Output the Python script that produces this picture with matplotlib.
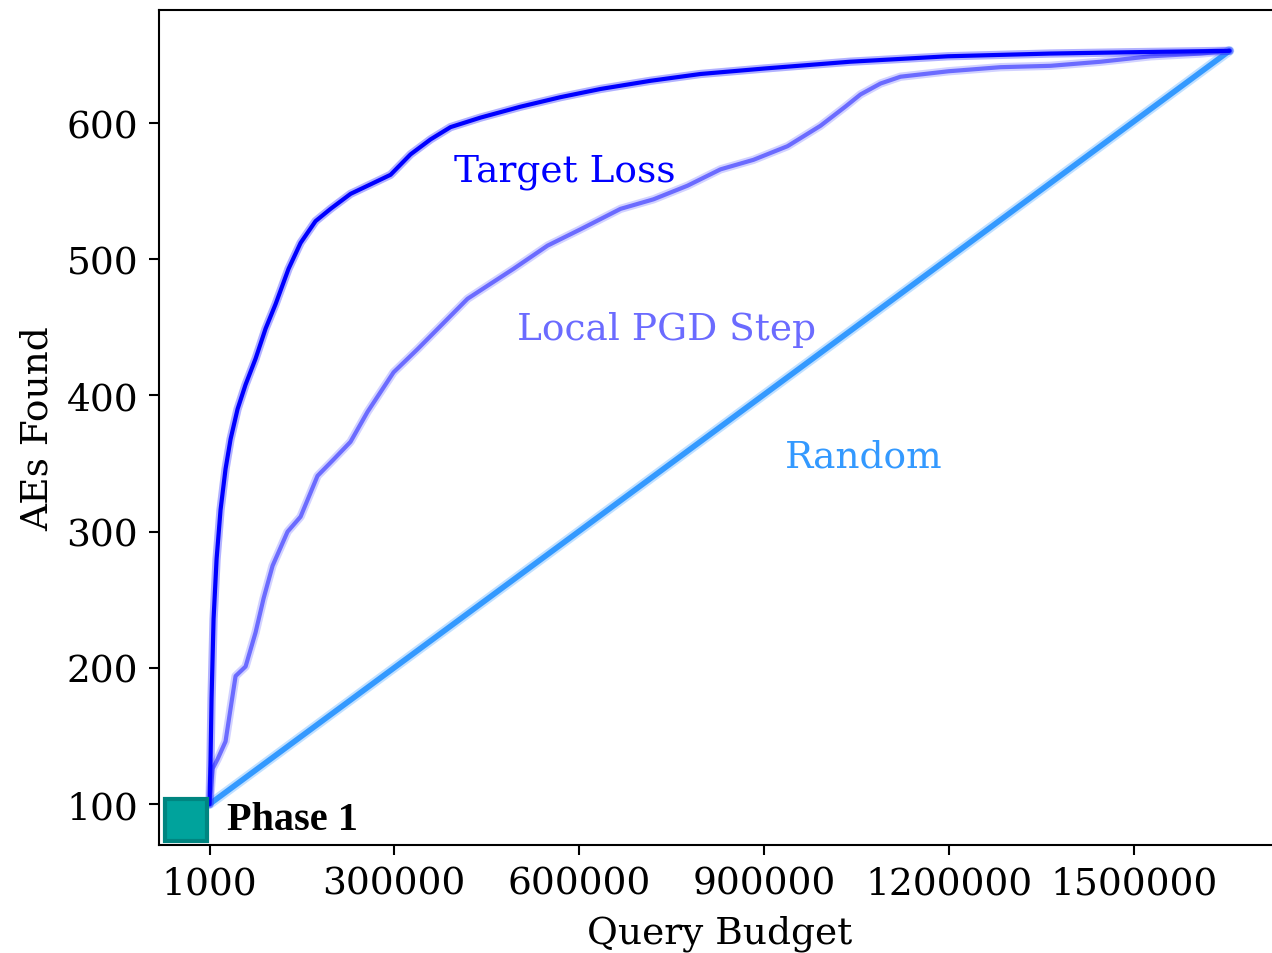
import matplotlib
matplotlib.use('Agg')
import matplotlib.pyplot as plt

plt.rcParams['font.family'] = 'DejaVu Serif'

# query budget (x) and AEs found (y)
target_x = [1000, 2600, 4200, 7500, 12400, 18800, 26900, 35100, 46400, 59400, 75600,
            91800, 108000, 129100, 148600, 172900, 197200, 229600, 262100, 294500,
            326900, 359400, 391800, 440500, 505300, 570200, 635000, 716100, 797200,
            900000, 1039500, 1198400, 1363800, 1498400, 1655000]
target_y = [100, 133, 177, 236, 280, 316, 346, 368, 390, 408, 427,
            449, 467, 493, 512, 528, 537, 548, 555, 562,
            577, 588, 597, 604, 612, 619, 625, 631, 636,
            640, 645, 649, 651, 652, 653]

pgd_x = [1000, 5900, 14000, 26900, 35000, 43200, 59400, 75600, 88600, 103200, 127500,
         148600, 176100, 202100, 229600, 257200, 299400, 338300, 375600, 419400,
         494000, 549100, 602600, 667500, 720900, 776100, 829600, 883100, 938300,
         991800, 1032000, 1056700, 1089100, 1121500, 1199400, 1283700, 1364800,
         1445900, 1527000, 1608000, 1655000]
pgd_y = [100, 126, 133, 146, 170, 194, 201, 226, 251, 275, 300,
         311, 341, 353, 366, 388, 417, 434, 451, 471,
         493, 510, 522, 537, 544, 554, 566, 573, 583,
         598, 612, 621, 629, 634, 638, 641, 642, 645, 649, 651, 653]

random_x = [1000, 1655000]
random_y = [100, 653]

x_ticks = [1000, 300000, 600000, 900000, 1200000, 1500000]
y_ticks = [100, 200, 300, 400, 500, 600]

c_target = '#0000ff'
c_pgd = '#6b6bff'
c_random = '#3399ff'

fig = plt.figure(figsize=(12.72, 9.54), dpi=100)
ax = fig.add_axes([0.125, 0.1132, 0.8813, 0.8753])

for xs, ys, c, lw in [(random_x, random_y, c_random, 4), (pgd_x, pgd_y, c_pgd, 3),
                      (target_x, target_y, c_target, 3)]:
    ax.plot(xs, ys, color=c, lw=lw + 3, alpha=0.3, solid_capstyle='round')
    ax.plot(xs, ys, color=c, lw=lw, solid_capstyle='round')

ax.plot([-37500], [88.5], marker='s', markersize=30, markerfacecolor='#00a39c',
        markeredgecolor='#008580', markeredgewidth=3, linestyle='none')
ax.text(28600, 88.5, 'Phase 1', fontsize=29, fontweight='bold', family='Liberation Serif',
        va='center', ha='left')

ax.text(396700, 565, 'Target Loss', color=c_target, fontsize=27, va='center')
ax.text(498800, 449, 'Local PGD Step', color=c_pgd, fontsize=27, va='center')
ax.text(933400, 355, 'Random', color=c_random, fontsize=27, va='center')

ax.set_xlim(-81000, 1737000)
ax.set_ylim(70, 683)
ax.set_xticks(x_ticks)
ax.set_xticklabels([str(t) for t in x_ticks])
ax.set_yticks(y_ticks)
ax.tick_params(labelsize=27, length=7, width=1.5, pad=8)
for s in ax.spines.values():
    s.set_linewidth(1.5)
ax.set_xlabel('Query Budget', fontsize=27, labelpad=9)
ax.set_ylabel('AEs Found', fontsize=27, labelpad=8)

fig.savefig('out.png', dpi=100)
